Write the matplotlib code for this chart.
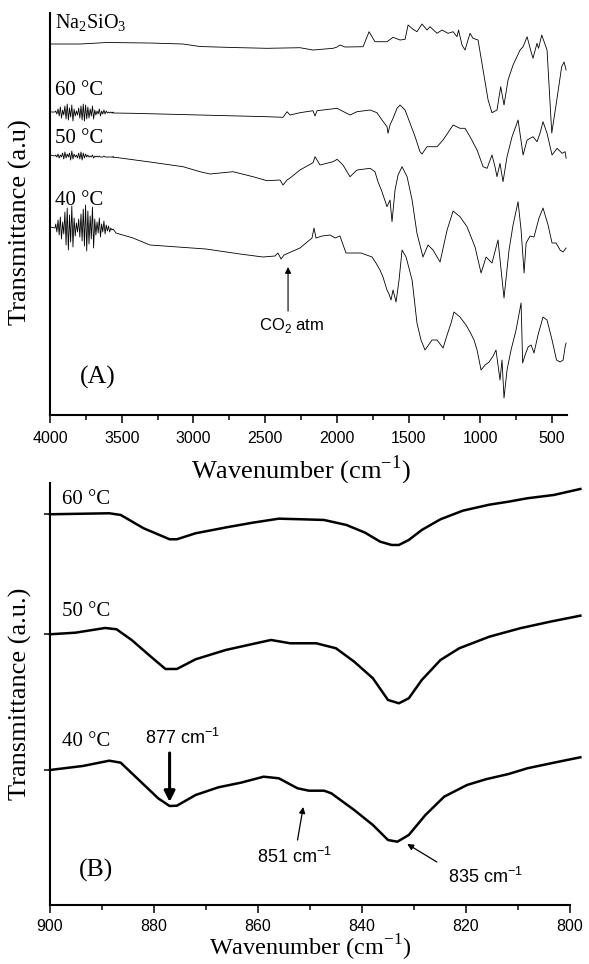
import matplotlib
matplotlib.use("Agg")
import matplotlib.pyplot as plt

plt.rcParams['font.family'] = 'Liberation Serif'
plt.rcParams['mathtext.fontset'] = 'custom'
plt.rcParams['mathtext.rm'] = 'Liberation Serif'
plt.rcParams['mathtext.sf'] = 'Liberation Sans'

# ---------- panel A: full spectra (wavenumber, transmittance a.u.) ----------
noise_wn = [3960, 3952, 3944, 3936, 3928, 3920, 3912, 3904, 3896, 3888, 3880, 3872, 3864,
            3856, 3848, 3840, 3832, 3824, 3816, 3808, 3800, 3792, 3784, 3776, 3768, 3760,
            3752, 3744, 3736, 3728, 3720, 3712, 3704, 3696, 3688, 3680, 3672, 3664, 3656,
            3648, 3640, 3632, 3624, 3616, 3608, 3600, 3592, 3584, 3576, 3568, 3560]

na_wn = [4000, 3791, 3602, 3303, 3072, 2954, 2724, 2487, 2257, 2166, 2026, 1998, 1978,
         1943, 1817, 1775, 1734, 1650, 1608, 1559, 1524, 1503, 1468, 1441, 1406, 1371,
         1350, 1301, 1266, 1224, 1189, 1162, 1151, 1127, 1106, 1071, 1050, 1015, 980,
         945, 918, 883, 857, 834, 806, 771, 722, 701, 673, 652, 632, 604, 593, 571, 534,
         501, 466, 432, 415, 401]
na_val = [371, 371, 372.5, 372, 371, 368.5, 367.5, 366.7, 367.3, 365, 366.7, 368, 370,
          368, 368.3, 383.3, 373.3, 373.3, 377.7, 375, 375.7, 390, 385.7, 383.3, 391, 385,
          388.3, 381.7, 385, 381.7, 383.3, 378.3, 385, 370, 365, 381.7, 376.7, 375, 345,
          315, 302.3, 305, 328.3, 310, 335, 350, 365, 368.3, 378.3, 366.7, 356.7, 371.7,
          366.7, 380, 365, 282, 315, 348.3, 353, 345]

t60_noise = [304, 301, 306, 299, 308, 297, 305, 300, 309, 296, 311, 295, 307, 298, 310,
             294, 306, 299, 304, 300, 307, 297, 309, 295, 311, 294, 310, 296, 308, 297,
             306, 299, 309, 296, 305, 300, 304, 301, 306, 299, 304, 301, 305, 301, 304,
             302, 303, 302, 303, 302, 303]
t60_wn = [3561, 3421, 2954, 2487, 2375, 2347, 2326, 2257, 2166, 2152, 2138, 1998, 1908,
          1859, 1768, 1720, 1685, 1650, 1643, 1629, 1608, 1580, 1559, 1524, 1489, 1454,
          1420, 1406, 1371, 1301, 1259, 1189, 1141, 1106, 1071, 1022, 980, 952, 918, 897,
          883, 862, 841, 813, 778, 736, 701, 673, 632, 604, 583, 562, 534, 499, 464, 429,
          408, 401]
t60_val = [302, 301.7, 300, 298.3, 297.7, 303.3, 300, 302.3, 304.3, 299, 304.3, 306.7,
           300, 303.3, 305, 302.3, 295, 288.3, 281.7, 290, 296.7, 306.7, 310, 305, 291.7,
           278.3, 263.3, 261, 268.3, 268.3, 275, 290, 286.7, 286.7, 278.3, 265, 248.3,
           246.7, 260, 248.3, 238.3, 251.7, 233.3, 258.3, 278.3, 295, 260, 275, 278.3,
           273.3, 281.7, 293.3, 281.7, 260, 266.7, 261.7, 263.3, 256.7]

t50_noise = [260, 258, 261, 257, 260, 258, 262, 256, 263, 257, 261, 258, 262, 255, 264,
             256, 261, 258, 260, 257, 262, 256, 263, 255, 262, 257, 261, 258, 260, 258,
             259, 258, 260, 257, 259, 258, 259, 258, 259, 258, 258, 258, 259, 258, 258,
             258, 258, 258, 258, 258, 258]
t50_wn = [3561, 3303, 3072, 2954, 2884, 2724, 2584, 2487, 2396, 2375, 2347, 2326, 2257,
          2166, 2152, 2117, 2026, 1998, 1957, 1908, 1859, 1768, 1734, 1713, 1685, 1650,
          1629, 1615, 1594, 1573, 1545, 1510, 1475, 1441, 1399, 1364, 1329, 1280, 1231,
          1189, 1141, 1092, 1036, 994, 959, 918, 876, 834, 799, 771, 736, 715, 694, 680,
          652, 625, 590, 562, 527, 499, 471, 443, 422, 401]
t50_val = [258, 253, 248.3, 243.3, 241, 243.3, 238.3, 234.3, 235, 230, 235, 237, 245,
           252.3, 258.3, 250, 253.3, 255.7, 250, 238.3, 245, 246.7, 243.3, 233.3, 223.3,
           208.3, 215, 193.3, 225, 240, 248.3, 238.3, 215, 181.7, 158, 170, 165, 153, 185,
           204, 198.3, 188.3, 168, 142, 158, 152, 175, 117, 165, 190, 213.3, 185, 142,
           172, 179, 178, 197, 207, 190, 172, 172, 165, 163, 167]

t40_noise = [191, 183, 195, 180, 198, 176, 193, 181, 203, 170, 207, 165, 200, 173, 209,
             168, 197, 179, 192, 183, 196, 178, 201, 174, 206, 169, 210, 164, 204, 171,
             199, 176, 208, 167, 196, 180, 193, 182, 197, 178, 191, 183, 194, 181, 190,
             184, 189, 183, 187, 185, 186]
t40_wn = [3540, 3421, 3303, 2912, 2675, 2515, 2431, 2410, 2389, 2368, 2257, 2173,
          2159, 2145, 2103, 2047, 2012, 1978, 1936, 1831, 1754, 1727, 1699, 1678, 1650,
          1636, 1622, 1608, 1587, 1566, 1545, 1517, 1475, 1441, 1413, 1385, 1336, 1301,
          1259, 1231, 1203, 1183, 1141, 1099, 1071, 1043, 1022, 994, 966, 938, 910, 890,
          876, 862, 848, 834, 813, 785, 750, 715, 704, 687, 666, 645, 625, 597, 562, 534,
          499, 468, 443, 422, 408, 401]
t40_val = [182, 177, 170, 166, 161, 158, 159, 162, 156, 160, 167, 177, 187, 177, 179,
           180, 177, 179, 162, 162, 158, 152, 145, 138, 125, 121, 115, 125, 113, 135, 165,
           158, 135, 92, 75, 65, 75, 75, 67, 80, 92, 103, 98, 90, 83, 75, 65, 45, 50, 53,
           59, 65, 50, 35, 55, 17, 45, 65, 85, 112, 52, 60, 68, 70, 62, 80, 98, 95, 75,
           55, 53, 55, 68, 72]

# ---------- panel B: 900-800 cm-1 zoom ----------
b60_wn = [900, 888.6, 886.4, 882, 877, 875.6, 872, 866, 861, 856, 851.7, 847.3, 843,
          839.4, 836.5, 834.3, 832.9, 831, 828.5, 824.9, 820.6, 815.5, 811.8, 808.2,
          803.1, 800.3, 798]
b60_val = [390.7, 391.7, 390, 376.7, 365.7, 365.7, 371.7, 377.7, 382.3, 386.3, 385.7,
           385, 380, 372.3, 363.3, 360, 360, 365, 375, 385.7, 394.3, 400.3, 403.3, 406.7,
           410, 413.3, 416]

b50_wn = [900, 895.1, 889.4, 887.2, 884.3, 880.6, 877.8, 875.6, 872, 866.2, 860.4, 857.5,
          853.8, 848.8, 845, 841.5, 837.9, 835, 832.9, 831, 828.5, 824.9, 821.3, 815.5,
          809.6, 803.8, 798]
b50_val = [270.7, 272.3, 277, 275.7, 265, 248.3, 236, 236, 245.7, 255, 261.7, 265, 261.7,
           261.7, 256.7, 243.3, 226.7, 205, 201.7, 206.7, 225, 245, 256.7, 268.3, 276.7,
           283.3, 289.3]

b40_wn = [900, 893.7, 888.6, 886.4, 882.9, 879.2, 877, 875.6, 872, 867.6, 863.3, 858.9,
          856, 852.4, 850.2, 847.3, 845.9, 841.5, 837.9, 835, 833.2, 831, 827.8, 824.2,
          819.8, 816.2, 811.8, 808.2, 803.1, 798]
b40_val = [135, 139, 144.3, 142.3, 125, 106.7, 99, 99.3, 110, 117.7, 122.3, 128.3, 126.7,
           116.7, 114.3, 114.3, 111.7, 95, 80, 65, 63.3, 70, 90, 108.3, 120, 125.7, 131,
           136.7, 142.3, 147.7]

fig = plt.figure(figsize=(5.89, 9.64), dpi=100)
axA = fig.add_axes([0.0849, 0.5695, 0.8777, 0.4170])
axB = fig.add_axes([0.0849, 0.0612, 0.8828, 0.4378])

def style(ax, pad):
    for s in ['top', 'right']:
        ax.spines[s].set_visible(False)
    for s in ['left', 'bottom']:
        ax.spines[s].set_linewidth(1.5)
    ax.tick_params(axis='x', which='major', direction='out', length=6, width=1.1,
                   pad=pad, labelsize=11.5, labelfontfamily='Liberation Sans')
    ax.tick_params(axis='x', which='minor', direction='out', length=3.6, width=1.1)

# panel A
style(axA, 5.5)
axA.plot([4000, 3965] + noise_wn + t40_wn, [188, 187] + t40_noise + t40_val, color='black', lw=0.6)
axA.plot([4000, 3965] + noise_wn + t50_wn, [260, 259] + t50_noise + t50_val, color='black', lw=0.6)
axA.plot([4000, 3965] + noise_wn + t60_wn, [303, 303] + t60_noise + t60_val, color='black', lw=0.6)
axA.plot(na_wn, na_val, color='black', lw=0.6)
axA.set_xlim(4000, 395)
axA.set_ylim(0, 402)
axA.set_xticks([4000, 3500, 3000, 2500, 2000, 1500, 1000, 500])
axA.set_xticks([3750, 3250, 2750, 2250, 1750, 1250, 750], minor=True)
axA.set_yticks([])
axA.set_xlabel('Wavenumber (cm$^{-1}$)', fontsize=19)
axA.xaxis.set_label_coords(0.485, -0.095)
axA.set_ylabel('Transmittance (a.u)', fontsize=19)
axA.yaxis.set_label_coords(-0.035, 0.48)

axA.text(3965, 392, 'Na$_2$SiO$_3$', fontsize=14.5, va='center')
axA.text(3965, 325, '60 °C', fontsize=15, va='center')
axA.text(3965, 277, '50 °C', fontsize=15, va='center')
axA.text(3965, 215, '40 °C', fontsize=15, va='center')
axA.text(3791, 38, '(A)', fontsize=18.5, va='center')
axA.text(2312, 90, 'CO$_\\mathsf{2}$ atm', fontsize=12, family='Liberation Sans',
         ha='center', va='center')
axA.annotate('', xy=(2340, 148), xytext=(2340, 104),
             arrowprops=dict(arrowstyle='-|>', color='black', lw=0.8,
                             shrinkA=0, shrinkB=0, mutation_scale=9))

# panel B
style(axB, 4)
axB.plot(b60_wn, b60_val, color='black', lw=1.8, clip_on=False)
axB.plot(b50_wn, b50_val, color='black', lw=1.8, clip_on=False)
axB.plot(b40_wn, b40_val, color='black', lw=1.8, clip_on=False)
axB.set_xlim(900, 800)
axB.set_ylim(0, 422)
axB.set_xticks([900, 880, 860, 840, 820, 800])
axB.set_xticks([890, 870, 850, 830, 810], minor=True)
axB.set_yticks([b40_val[0], b50_val[0], b60_val[0]])
axB.set_yticklabels([])
axB.tick_params(axis='y', direction='out', length=4, width=1.1)
axB.set_xlabel('Wavenumber (cm$^{-1}$)', fontsize=17.5, va='bottom')
axB.xaxis.set_label_coords(0.5, -0.1365)
axB.set_ylabel('Transmittance (a.u.)', fontsize=19)
axB.yaxis.set_label_coords(-0.035, 0.5)

axB.text(897.7, 405, '60 °C', fontsize=15, va='center')
axB.text(897.7, 293, '50 °C', fontsize=15, va='center')
axB.text(897.7, 163, '40 °C', fontsize=15, va='center')
axB.text(894.4, 35, '(B)', fontsize=18.5, va='center')
axB.text(874.6, 167, '877 cm$^\\mathsf{-1}$', fontsize=13, family='Liberation Sans',
         ha='center', va='center')
axB.annotate('', xy=(877, 103), xytext=(877, 152),
             arrowprops=dict(arrowstyle='-|>', color='black', lw=2.2,
                             shrinkA=0, shrinkB=0, mutation_scale=16))
axB.text(852.9, 48, '851 cm$^\\mathsf{-1}$', fontsize=13, family='Liberation Sans',
         ha='center', va='center')
axB.annotate('', xy=(851.3, 98), xytext=(852.4, 65),
             arrowprops=dict(arrowstyle='-|>', color='black', lw=0.9,
                             shrinkA=0, shrinkB=0, mutation_scale=9))
axB.text(816.3, 28, '835 cm$^\\mathsf{-1}$', fontsize=13, family='Liberation Sans',
         ha='center', va='center')
axB.annotate('', xy=(831.3, 61), xytext=(825.6, 43),
             arrowprops=dict(arrowstyle='-|>', color='black', lw=0.9,
                             shrinkA=0, shrinkB=0, mutation_scale=9))

fig.savefig('out.png', dpi=100)
